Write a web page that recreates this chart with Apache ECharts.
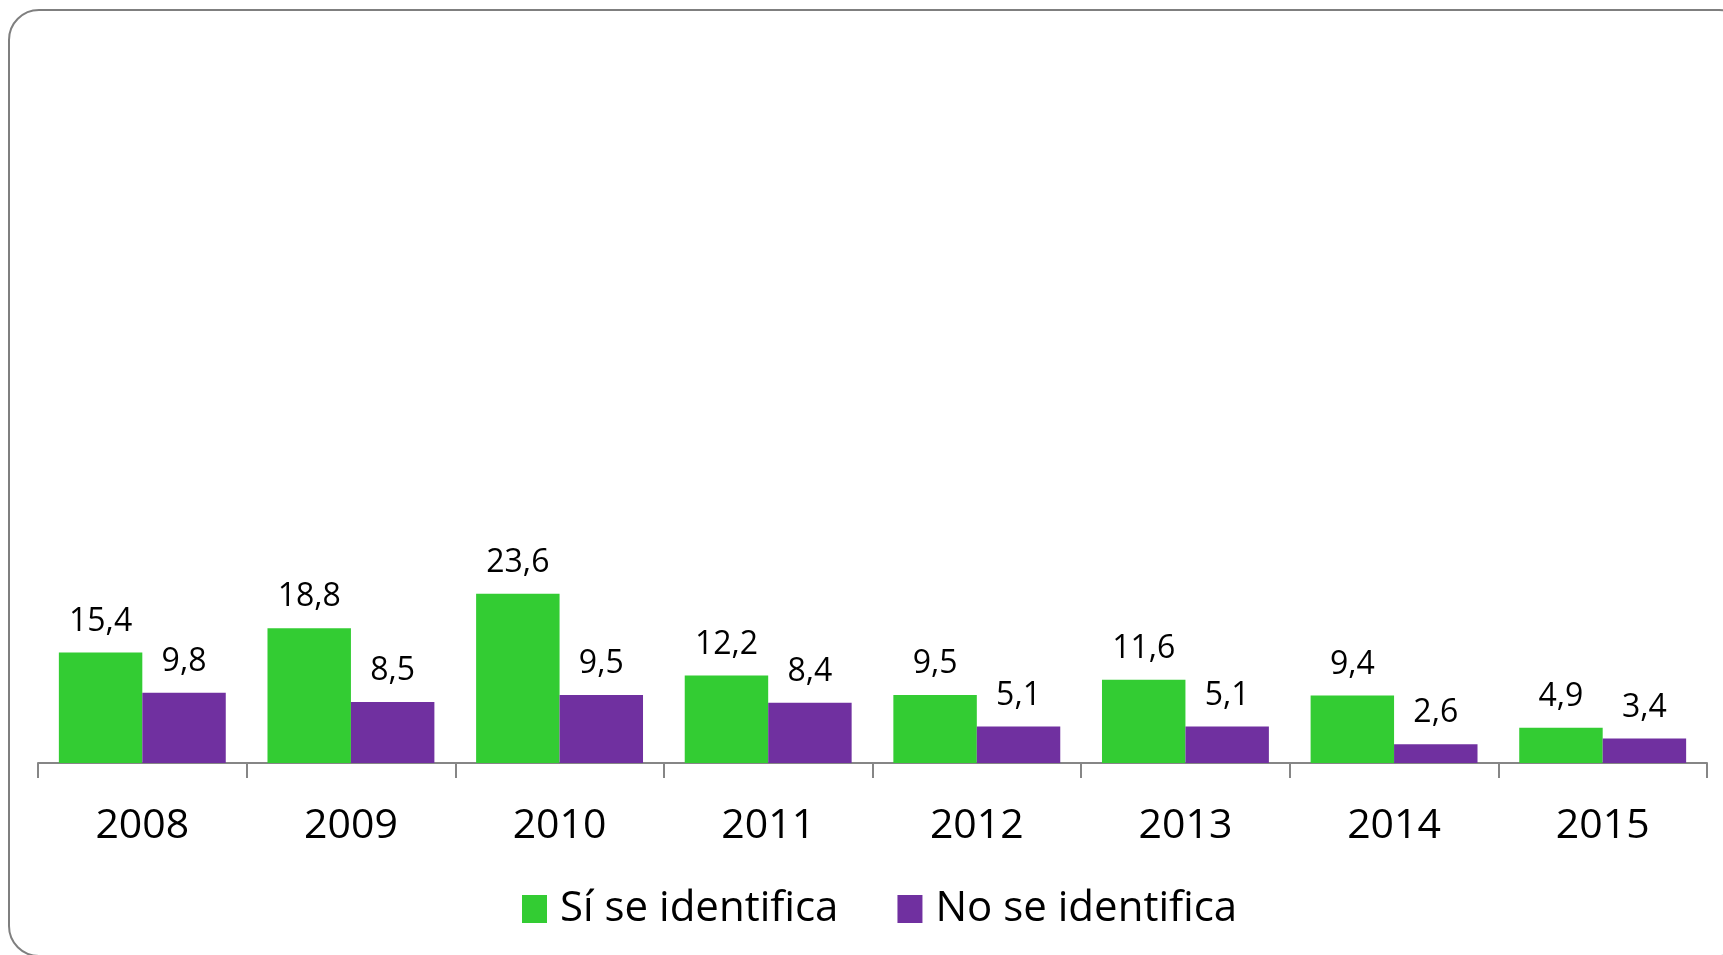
<!DOCTYPE html>
<html>
<head>
<meta charset="utf-8">
<script src="https://cdn.jsdelivr.net/npm/echarts@6/dist/echarts.min.js"></script>
<style>
  html, body { margin: 0; padding: 0; background: #fff; }
  #chart { width: 1723px; height: 955px; }
</style>
</head>
<body>
<div id="chart"></div>
<script>
// categorías y valores
const years = ["2008", "2009", "2010", "2011", "2012", "2013", "2014", "2015"];
const siSeIdentifica = [15.4, 18.8, 23.6, 12.2, 9.5, 11.6, 9.4, 4.9];
const noSeIdentifica = [9.8, 8.5, 9.5, 8.4, 5.1, 5.1, 2.6, 3.4];
const seriesNames = ["Sí se identifica", "No se identifica"];

const fontFamily = "'Open Sans', 'Noto Sans', sans-serif";

var chart = echarts.init(document.getElementById("chart"));

// etiqueta con coma decimal
function labelFmt(p) {
  return String(p.value).replace(".", ",");
}

var option = {
  animation: false,
  textStyle: { fontFamily: fontFamily },
  // marco redondeado
  graphic: [
    {
      type: "rect",
      shape: { x: 9, y: 10, width: 1740, height: 946, r: 30 },
      style: { fill: "none", stroke: "#7f7f7f", lineWidth: 2 },
      silent: true,
      z: -1,
    },
  ],
  grid: {
    left: 38,
    right: 16,
    top: 46,
    bottom: 192,
  },
  legend: {
    data: seriesNames,
    bottom: 20,
    left: 517,
    itemWidth: 25,
    itemHeight: 28,
    itemGap: 59,
    icon: "rect",
    textStyle: {
      fontSize: 42,
      color: "#000",
      fontFamily: fontFamily,
      padding: [0, 0, 0, 8],
    },
  },
  xAxis: {
    type: "category",
    data: years,
    axisLine: { lineStyle: { color: "#868686", width: 2 } },
    axisTick: {
      show: true,
      length: 15,
      lineStyle: { color: "#868686", width: 2 },
    },
    axisLabel: {
      fontSize: 41,
      color: "#000",
      margin: 43,
      fontFamily: fontFamily,
    },
  },
  yAxis: {
    type: "value",
    min: 0,
    max: 100,
    show: false,
    splitLine: { show: false },
  },
  series: [
    {
      name: seriesNames[0],
      type: "bar",
      data: siSeIdentifica,
      barGap: "0%",
      barCategoryGap: "20%",
      itemStyle: { color: "#33cc33" },
      label: {
        show: true,
        position: "top",
        distance: 15,
        fontSize: 32,
        color: "#000",
        fontFamily: fontFamily,
        formatter: labelFmt,
      },
    },
    {
      name: seriesNames[1],
      type: "bar",
      data: noSeIdentifica,
      barGap: "0%",
      barCategoryGap: "20%",
      itemStyle: { color: "#7030a0" },
      label: {
        show: true,
        position: "top",
        distance: 15,
        fontSize: 32,
        color: "#000",
        fontFamily: fontFamily,
        formatter: labelFmt,
      },
    },
  ],
};

chart.setOption(option);
</script>
</body>
</html>
